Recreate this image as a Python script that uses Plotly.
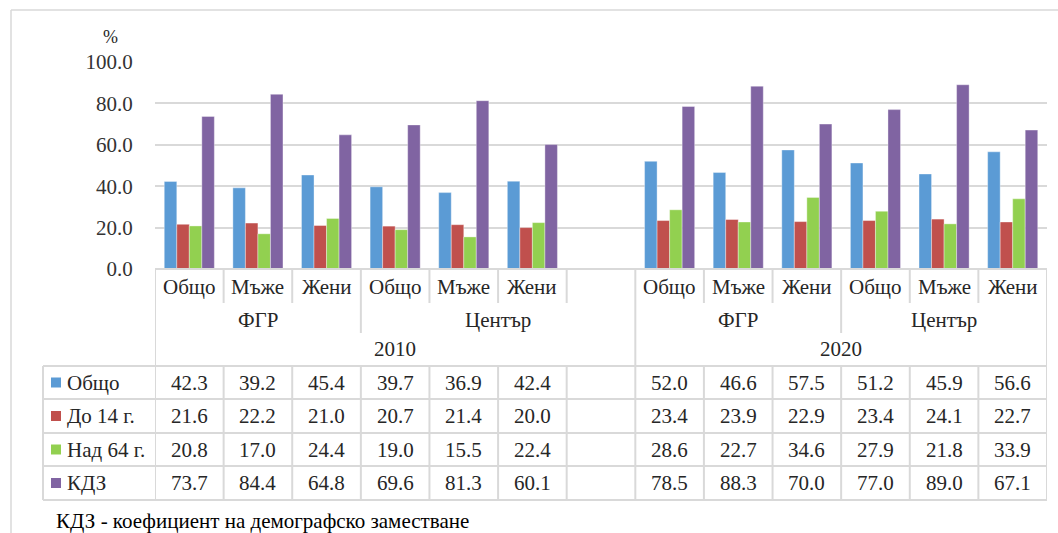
import plotly.graph_objects as go

# ── Data ──────────────────────────────────────────────────────────────────────
years = ["2010"] * 6 + ["2020"] * 6
regions = (["ФГР"] * 3 + ["Център"] * 3) * 2
sexes = ["Общо", "Мъже", "Жени"] * 4

series_names = ["Общо", "До 14 г.", "Над 64 г.", "КДЗ"]
obshto = [42.3, 39.2, 45.4, 39.7, 36.9, 42.4, 52.0, 46.6, 57.5, 51.2, 45.9, 56.6]
do_14 = [21.6, 22.2, 21.0, 20.7, 21.4, 20.0, 23.4, 23.9, 22.9, 23.4, 24.1, 22.7]
nad_64 = [20.8, 17.0, 24.4, 19.0, 15.5, 22.4, 28.6, 22.7, 34.6, 27.9, 21.8, 33.9]
kdz = [73.7, 84.4, 64.8, 69.6, 81.3, 60.1, 78.5, 88.3, 70.0, 77.0, 89.0, 67.1]
y_ticks = [0, 20, 40, 60, 80, 100]
footnote = "КДЗ - коефициент на демографско заместване"

SERIES = [obshto, do_14, nad_64, kdz]
COLORS = ["#5B9BD5", "#C0504D", "#92D050", "#8064A2"]

W, H = 1058, 533
FONT = "'Liberation Serif', 'Times New Roman', serif"
FS = 21
TXT = "#262626"
LINE = "#D9D9D9"

# one empty slot after the 2010 block
pos = [i if years[i] == "2010" else i + 1 for i in range(len(years))]
n_slots = len(years) + 1


def py(p):
    return 1 - p / H


def px_(p):
    return p / W


fig = go.Figure()
for name, vals, col in zip(series_names, SERIES, COLORS):
    fig.add_trace(go.Bar(
        x=pos, y=vals, name=name, marker_color=col,
        marker_line=dict(width=0.6, color="rgba(255,255,255,0.6)"),
        showlegend=False, hoverinfo="skip",
    ))

shapes = []
ann = []


def label(x, y, text, xref="x", xanchor="center", size=FS, color=TXT):
    ann.append(dict(x=x, y=y, xref=xref, yref="paper", text=text,
                    xanchor=xanchor, yanchor="middle", showarrow=False,
                    font=dict(size=size, color=color, family=FONT)))


def hline(y, x0, x1, w=2):
    shapes.append(dict(type="line", xref="paper", yref="paper",
                       x0=px_(x0), x1=px_(x1), y0=py(y), y1=py(y),
                       line=dict(color=LINE, width=w)))


def vline(xd, y0, y1, w=2):
    shapes.append(dict(type="line", xref="x", yref="paper",
                       x0=xd, x1=xd, y0=py(y0), y1=py(y1),
                       line=dict(color=LINE, width=w)))


# outer frame
shapes.append(dict(type="line", xref="paper", yref="paper", x0=px_(11), x1=1,
                   y0=py(10), y1=py(10), line=dict(color=LINE, width=1.5)))
shapes.append(dict(type="line", xref="paper", yref="paper", x0=px_(11), x1=px_(11),
                   y0=py(10), y1=0, line=dict(color=LINE, width=1.5)))

# table rows
TOP, R1, R2, HDR = 269, 303, 333, 366
ROWS = [366, 399, 433, 466, 500]
hline(TOP, 155, 1047)
for r in ROWS:
    hline(r, 43, 1047)
shapes.append(dict(type="line", xref="paper", yref="paper", x0=px_(43), x1=px_(43),
                   y0=py(ROWS[0]), y1=py(ROWS[-1]), line=dict(color=LINE, width=2)))

# vertical separators
gap = len([y for y in years if y == "2010"])
for b in range(n_slots + 1):
    xd = b - 0.5
    vline(xd, ROWS[0], ROWS[-1])
    if b in (0, n_slots, gap + 1):
        vline(xd, TOP, HDR)
    elif b in (3, gap + 1 + 3):
        vline(xd, TOP, R2)
    else:
        vline(xd, TOP, R1)

# header text
for i, p in enumerate(pos):
    label(p, py(287), sexes[i])
# region labels (2010 Център spans the empty slot too)
label((pos[0] + pos[2]) / 2, py(320), regions[0])
label((pos[3] + pos[5] + 1) / 2, py(320), regions[3])
label((pos[6] + pos[8]) / 2, py(320), regions[6])
label((pos[9] + pos[11]) / 2, py(320), regions[9])
label((pos[0] + pos[5] + 1) / 2, py(349), years[0])
label((pos[6] + pos[11]) / 2, py(349), years[6])

# data rows
for r, (name, vals, col) in enumerate(zip(series_names, SERIES, COLORS)):
    yc = (ROWS[r] + ROWS[r + 1]) / 2
    for i, p in enumerate(pos):
        label(p, py(yc), f"{vals[i]:.1f}")
    shapes.append(dict(type="rect", xref="paper", yref="paper",
                       x0=px_(51), x1=px_(61), y0=py(yc + 5), y1=py(yc - 5),
                       fillcolor=col, line=dict(width=0)))
    label(px_(65), py(yc), name, xref="paper", xanchor="left")

label(px_(110), py(37), "%", xref="paper", size=18)
label(px_(54), py(521), footnote, xref="paper", xanchor="left", size=FS, color="#000000")

fig.update_layout(
    width=W, height=H, autosize=False,
    margin=dict(l=0, r=0, t=0, b=0, pad=0, autoexpand=False),
    paper_bgcolor="#FFFFFF", plot_bgcolor="#FFFFFF",
    font=dict(family=FONT, color=TXT),
    barmode="group", bargap=0.27, bargroupgap=0,
    xaxis=dict(domain=[px_(155), px_(1047)], range=[-0.5, n_slots - 0.5],
               showticklabels=False, showgrid=False, zeroline=False,
               automargin=False, fixedrange=True),
    yaxis=dict(domain=[py(TOP), py(62)], range=[0, 100], tickvals=y_ticks,
               ticktext=[f"{v:.1f}" for v in y_ticks],
               showgrid=True, gridcolor=LINE, gridwidth=2, zeroline=False,
               ticks="outside", ticklen=17, tickcolor="rgba(0,0,0,0)",
               tickfont=dict(size=FS, color="#333333", family=FONT),
               automargin=False, fixedrange=True),
    shapes=shapes, annotations=ann,
)

# pin the figure to the top-left corner of the page
PIN = ("document.body.style.margin='0';"
       "var gd=document.getElementById('{plot_id}');"
       "gd.style.position='fixed';gd.style.top='0px';gd.style.left='0px';")

fig.write_html("out.html", config={"displayModeBar": False, "responsive": False},
               post_script=PIN)
